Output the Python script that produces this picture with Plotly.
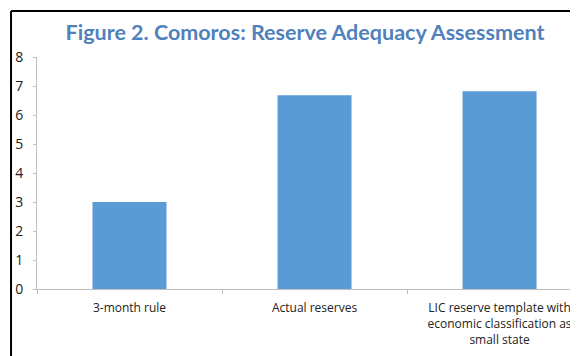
import plotly.graph_objects as go

categories = [
    "3-month rule",
    "Actual reserves",
    "LIC reserve template with<br>economic classification as<br>small state",
]
months_of_imports = [3.0, 6.68, 6.82]

fig = go.Figure()
fig.add_trace(go.Bar(
    x=categories, y=months_of_imports,
    marker_color="#5b9bd5",
    marker_line_width=0,
    width=0.4,
    hoverinfo="x+y",
))

# black frame along the top and left edges, as in the source document
frame = dict(type="line", xref="paper", yref="paper", line=dict(color="black", width=2))
fig.add_shape(**frame, x0=-0.048, x1=1.05, y0=1.198, y1=1.198)
fig.add_shape(**frame, x0=-0.048, x1=-0.048, y0=1.198, y1=-0.32)

# the page body adds an 8px offset, so the figure is sized 8px smaller
fig.update_layout(
    width=570, height=348,
    title=dict(
        text="<b>Figure 2. Comoros: Reserve Adequacy Assessment</b>",
        font=dict(family="Lato", size=21.5, color="#4f81bd"),
        x=297 / 570, xanchor="center",
        y=1 - 24 / 348, yanchor="middle",
    ),
    font=dict(family="Open Sans", size=12, color="#222222"),
    plot_bgcolor="white",
    paper_bgcolor="white",
    margin=dict(l=29, r=0, t=49, b=67),
    showlegend=False,
    xaxis=dict(
        range=[-0.5, 2.424],
        automargin=False,
        showline=True, linecolor="#bfbfbf", linewidth=1,
        ticks="outside", tickson="boundaries", ticklen=4, tickcolor="#bfbfbf",
        showgrid=False,
        ticklabelstandoff=8,
    ),
    yaxis=dict(
        range=[0, 8], dtick=1,
        automargin=False,
        showline=True, linecolor="#bfbfbf", linewidth=1,
        ticks="outside", ticklen=3, tickcolor="#bfbfbf",
        showgrid=False, zeroline=False,
        tickfont=dict(size=14),
        ticklabelstandoff=7,
    ),
)

fig.write_html("out.html")
